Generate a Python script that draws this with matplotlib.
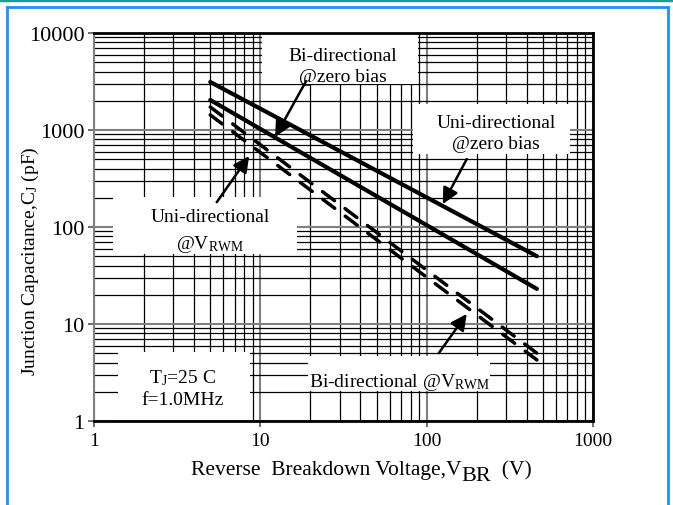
import matplotlib
matplotlib.use("Agg")
import matplotlib.pyplot as plt
from matplotlib.patches import Rectangle
from matplotlib.lines import Line2D
from matplotlib.ticker import NullFormatter, LogLocator

plt.rcParams['font.family'] = ['Liberation Serif', 'DejaVu Serif']
plt.rcParams['mathtext.fontset'] = 'custom'
plt.rcParams['mathtext.rm'] = 'Liberation Serif'
plt.rcParams['mathtext.it'] = 'Liberation Serif:italic'

# values (V_BR in volts, C_J in pF)
volts = [5, 460]
uni_zero = [3125, 50]
bi_zero = [2040, 23]
uni_vrwm = [1725, 5.0]
bi_vrwm = [1430, 4.26]

xticks = [1, 10, 100, 1000]
xtick_labels = ['1', '10', '100', '1000']
yticks = [1, 10, 100, 1000, 10000]
ytick_labels = ['1', '10', '100', '1000', '10000']

W, H = 673, 506
fig = plt.figure(figsize=(W / 100, H / 100), dpi=100)
ax = fig.add_axes([94 / W, 1 - 422 / H, 499 / W, 388 / H])

ax.set_xscale('log')
ax.set_yscale('log')
ax.set_xlim(1, 1000)
ax.set_ylim(1, 10000)
ax.set_xticks(xticks)
ax.set_xticklabels(xtick_labels)
ax.set_yticks(yticks)
ax.set_yticklabels(ytick_labels)
ax.xaxis.set_minor_locator(LogLocator(base=10, subs=range(2, 10)))
ax.yaxis.set_minor_locator(LogLocator(base=10, subs=range(2, 10)))
ax.xaxis.set_minor_formatter(NullFormatter())
ax.yaxis.set_minor_formatter(NullFormatter())
ax.tick_params(which='major', direction='out', length=4, width=1.2, color='#555555')
ax.tick_params(axis='y', labelsize=16, pad=3)
ax.tick_params(axis='x', labelsize=14, pad=4)
ax.tick_params(which='minor', length=0)

ax.set_axisbelow(True)
ax.grid(which='major', color='#808080', lw=1.5)
ax.grid(which='minor', color='black', lw=0.9)

for s in ['top', 'right', 'bottom']:
    ax.spines[s].set_linewidth(2)
    ax.spines[s].set_color('black')
ax.spines['left'].set_linewidth(1.5)
ax.spines['left'].set_color('#808080')

# white label boxes hiding the grid (axes fraction)
boxes = [(0.337, 0.869, 0.312, 0.131),
         (0.639, 0.688, 0.315, 0.129),
         (0.038, 0.430, 0.369, 0.147),
         (0.048, 0.002, 0.265, 0.176),
         (0.429, 0.077, 0.365, 0.091)]
for bx, by, bw, bh in boxes:
    ax.add_patch(Rectangle((bx, by), bw, bh, transform=ax.transAxes,
                           facecolor='white', edgecolor='none', zorder=1))

ax.plot(volts, uni_zero, color='black', lw=3, solid_capstyle='round', zorder=3)
ax.plot(volts, bi_zero, color='black', lw=3, solid_capstyle='round', zorder=3)
ax.plot(volts, uni_vrwm, color='black', lw=2.5, dashes=(4.3, 3.8),
        dash_capstyle='round', zorder=3)
ax.plot(volts, bi_vrwm, color='black', lw=2.5, dashes=(4.3, 3.8),
        dash_capstyle='round', zorder=3)

fs = 14
ax.text(0.499, 0.915, 'Bi-directional\n@zero bias', transform=ax.transAxes,
        ha='center', va='center', fontsize=fs, linespacing=1.3, zorder=4)
ax.text(0.806, 0.742, 'Uni-directional\n@zero bias', transform=ax.transAxes,
        ha='center', va='center', fontsize=fs, linespacing=1.3, zorder=4)
ax.text(0.232, 0.49, 'Uni-directional\n@V$_{\\mathregular{RWM}}$', transform=ax.transAxes,
        ha='center', va='center', fontsize=fs, linespacing=1.5, zorder=4)
ax.text(0.178, 0.085, 'T$_{\\mathregular{J}}$=25 C\nf=1.0MHz', transform=ax.transAxes,
        ha='center', va='center', fontsize=fs, linespacing=1.3, zorder=4)
ax.text(0.613, 0.103, 'Bi-directional @V$_{\\mathregular{RWM}}$', transform=ax.transAxes,
        ha='center', va='center', fontsize=fs, zorder=4)

arrows = [((0.425, 0.876), (0.363, 0.732)),
          ((0.747, 0.675), (0.699, 0.559)),
          ((0.246, 0.564), (0.311, 0.683)),
          ((0.691, 0.175), (0.747, 0.276))]
for tail, tip in arrows:
    ax.annotate('', xy=tip, xycoords='axes fraction', xytext=tail,
                textcoords='axes fraction',
                arrowprops=dict(arrowstyle='-|>', lw=1.8, color='black',
                                mutation_scale=24, shrinkA=0, shrinkB=0),
                zorder=5)

# axis labels
fig.text(30 / W, 1 - 261 / H, 'Junction Capacitance,C$_{\\mathregular{J}}$ (pF)',
         rotation=90, ha='center', va='center', fontsize=14)
t1 = fig.text(191 / W, 1 - 480 / H, 'Reverse  Breakdown Voltage,V',
              ha='left', va='bottom', fontsize=15.5)
t2 = ax.annotate('BR', xy=(1, 0), xycoords=t1, xytext=(0, -4),
                 textcoords='offset points', ha='left', va='bottom', fontsize=16)
ax.annotate('  (V)', xy=(1, 0), xycoords=t2, xytext=(0, 4),
            textcoords='offset points', ha='left', va='bottom', fontsize=15.5)

# outer frame
frame = dict(color='#1e90ff', lw=2, transform=fig.transFigure)
fig.add_artist(Line2D([7 / W, 7 / W], [0, 1 - 8 / H], **frame))
fig.add_artist(Line2D([668 / W, 668 / W], [0, 1 - 8 / H], **frame))
fig.add_artist(Line2D([7 / W, 668 / W], [1 - 8 / H, 1 - 8 / H], **frame))
fig.add_artist(Line2D([0, 1], [1 - 1 / H, 1 - 1 / H], color='#1a9c9c', lw=2.5,
                      transform=fig.transFigure))

fig.savefig('out.png', dpi=100)
